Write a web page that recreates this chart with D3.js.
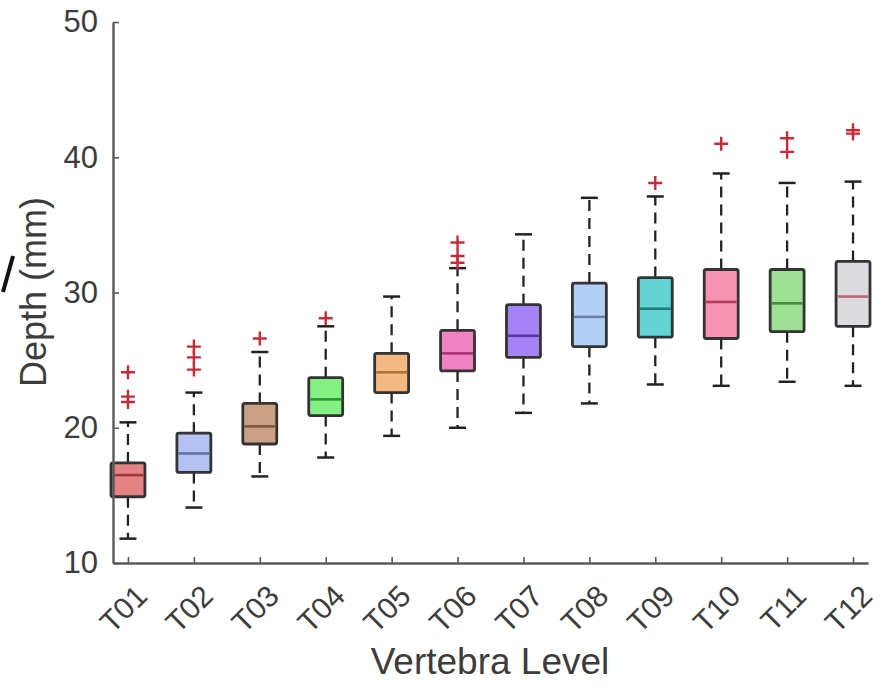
<!DOCTYPE html>
<html>
<head>
<meta charset="utf-8">
<script src="https://cdn.jsdelivr.net/npm/d3@7"></script>
<style>
  body { margin: 0; background: #fff; }
  svg { display: block; font-family: "Liberation Sans", Arial, sans-serif; }
</style>
</head>
<body>
<svg id="chart" width="879" height="700"></svg>
<script>
// vertebra levels
const levels = ['T01', 'T02', 'T03', 'T04', 'T05', 'T06', 'T07', 'T08', 'T09', 'T10', 'T11', 'T12'];

// box statistics (mm)
const whiskerLow = [11.8, 14.1, 16.4, 17.8, 19.4, 20.0, 21.1, 21.8, 23.2, 23.1, 23.4, 23.1];
const q1         = [14.9, 16.7, 18.8, 20.9, 22.6, 24.2, 25.2, 26.0, 26.7, 26.6, 27.1, 27.5];
const medians    = [16.5, 18.1, 20.1, 22.1, 24.1, 25.5, 26.8, 28.2, 28.8, 29.3, 29.2, 29.7];
const q3         = [17.4, 19.6, 21.8, 23.7, 25.5, 27.2, 29.1, 30.7, 31.1, 31.7, 31.7, 32.3];
const whiskerHigh = [20.4, 22.6, 25.6, 27.5, 29.7, 31.8, 34.3, 37.0, 37.1, 38.8, 38.1, 38.2];
const outliers = [
  [21.9, 22.3, 24.1],
  [24.3, 25.2, 26.0],
  [26.6],
  [28.1],
  [],
  [32.2, 32.7, 33.7],
  [],
  [],
  [38.1],
  [41.0],
  [40.4, 41.4],
  [41.75, 42.0]
];

const yTicks = [10, 20, 30, 40, 50];

// colours
const boxFill = ['#e38383', '#b3c2f0', '#c9a286', '#84f084', '#f4b982', '#ef82c0',
                 '#a383f5', '#b2d0f6', '#62d2d2', '#f693b3', '#9de095', '#dadadf'];
const medianColor = ['#9a3a3a', '#62729f', '#7f5640', '#2f9232', '#b07236', '#a83676',
                     '#5636a0', '#6a80a8', '#237a7a', '#b23e5e', '#488a44', '#b86676'];

const svg = d3.select('#chart');

const y = d3.scaleLinear().domain([10, 50]).range([563, 22]);
const x = d3.scalePoint().domain(levels).range([113, 868]).padding(0.227);
const boxW = x.step() * 0.515;
const capW = boxW * 0.5;

const data = levels.map((k, i) => ({
  k, i, lo: whiskerLow[i], q1: q1[i], med: medians[i], q3: q3[i], hi: whiskerHigh[i], out: outliers[i]
}));

const g = svg.append('g');

const box = g.selectAll('g.box').data(data).enter().append('g').attr('class', 'box');

// dashed whiskers
box.append('line')
  .attr('x1', d => x(d.k)).attr('x2', d => x(d.k))
  .attr('y1', d => y(d.q3)).attr('y2', d => y(d.hi))
  .attr('stroke', '#222').attr('stroke-width', 2.3).attr('stroke-dasharray', '11,7');
box.append('line')
  .attr('x1', d => x(d.k)).attr('x2', d => x(d.k))
  .attr('y1', d => y(d.q1)).attr('y2', d => y(d.lo))
  .attr('stroke', '#222').attr('stroke-width', 2.3).attr('stroke-dasharray', '11,7');

// caps
box.append('line')
  .attr('x1', d => x(d.k) - capW / 2).attr('x2', d => x(d.k) + capW / 2)
  .attr('y1', d => y(d.hi)).attr('y2', d => y(d.hi))
  .attr('stroke', '#222').attr('stroke-width', 2.5);
box.append('line')
  .attr('x1', d => x(d.k) - capW / 2).attr('x2', d => x(d.k) + capW / 2)
  .attr('y1', d => y(d.lo)).attr('y2', d => y(d.lo))
  .attr('stroke', '#222').attr('stroke-width', 2.5);

// box body
box.append('rect')
  .attr('x', d => x(d.k) - boxW / 2)
  .attr('y', d => y(d.q3))
  .attr('width', boxW)
  .attr('height', d => y(d.q1) - y(d.q3))
  .attr('rx', 2)
  .attr('fill', d => boxFill[d.i])
  .attr('stroke', '#333')
  .attr('stroke-width', 2.8);

// median
box.append('line')
  .attr('x1', d => x(d.k) - boxW / 2 + 1.5).attr('x2', d => x(d.k) + boxW / 2 - 1.5)
  .attr('y1', d => y(d.med)).attr('y2', d => y(d.med))
  .attr('stroke', d => medianColor[d.i]).attr('stroke-width', 2.6);

// outliers
box.selectAll('path.out')
  .data(d => d.out.map(v => ({ k: d.k, v })))
  .enter().append('path')
  .attr('class', 'out')
  .attr('transform', d => `translate(${x(d.k)},${y(d.v)})`)
  .attr('d', 'M-7,0H7M0,-7V7')
  .attr('stroke', '#c42c38')
  .attr('stroke-width', 2.4)
  .attr('fill', 'none');

// axes
const yAxis = svg.append('g')
  .attr('transform', 'translate(113,0)')
  .call(d3.axisLeft(y).tickValues(yTicks).tickSizeInner(-6).tickSizeOuter(0).tickPadding(15));

const xAxis = svg.append('g')
  .attr('transform', 'translate(0,563)')
  .call(d3.axisBottom(x).tickSizeInner(-6).tickSizeOuter(0).tickFormat(''));

[yAxis, xAxis].forEach(a => {
  a.select('.domain').attr('stroke', '#5a5a5a').attr('stroke-width', 2.4);
  a.selectAll('.tick line').attr('stroke', '#5a5a5a').attr('stroke-width', 1.6);
});

yAxis.selectAll('.tick text')
  .attr('font-size', 31)
  .attr('fill', '#3c3c3c')
  .attr('font-family', '"Liberation Sans", Arial, sans-serif');

// rotated x tick labels
svg.append('g').selectAll('text').data(levels).enter().append('text')
  .attr('transform', d => `translate(${x(d) + 21},${598}) rotate(-45)`)
  .attr('text-anchor', 'end')
  .attr('font-size', 30)
  .attr('fill', '#3c3c3c')
  .text(d => d);

// axis titles
svg.append('text')
  .attr('x', 490).attr('y', 674)
  .attr('text-anchor', 'middle')
  .attr('font-size', 37)
  .attr('fill', '#3c3c3c')
  .text('Vertebra Level');

svg.append('text')
  .attr('transform', 'translate(46,292) rotate(-90)')
  .attr('text-anchor', 'middle')
  .attr('font-size', 36)
  .attr('fill', '#3c3c3c')
  .text('Depth (mm)');

// cut-off stroke at the left edge of the source figure
svg.append('path')
  .attr('d', 'M13,256L3,292')
  .attr('stroke', '#111')
  .attr('stroke-width', 4)
  .attr('fill', 'none');
</script>
</body>
</html>
